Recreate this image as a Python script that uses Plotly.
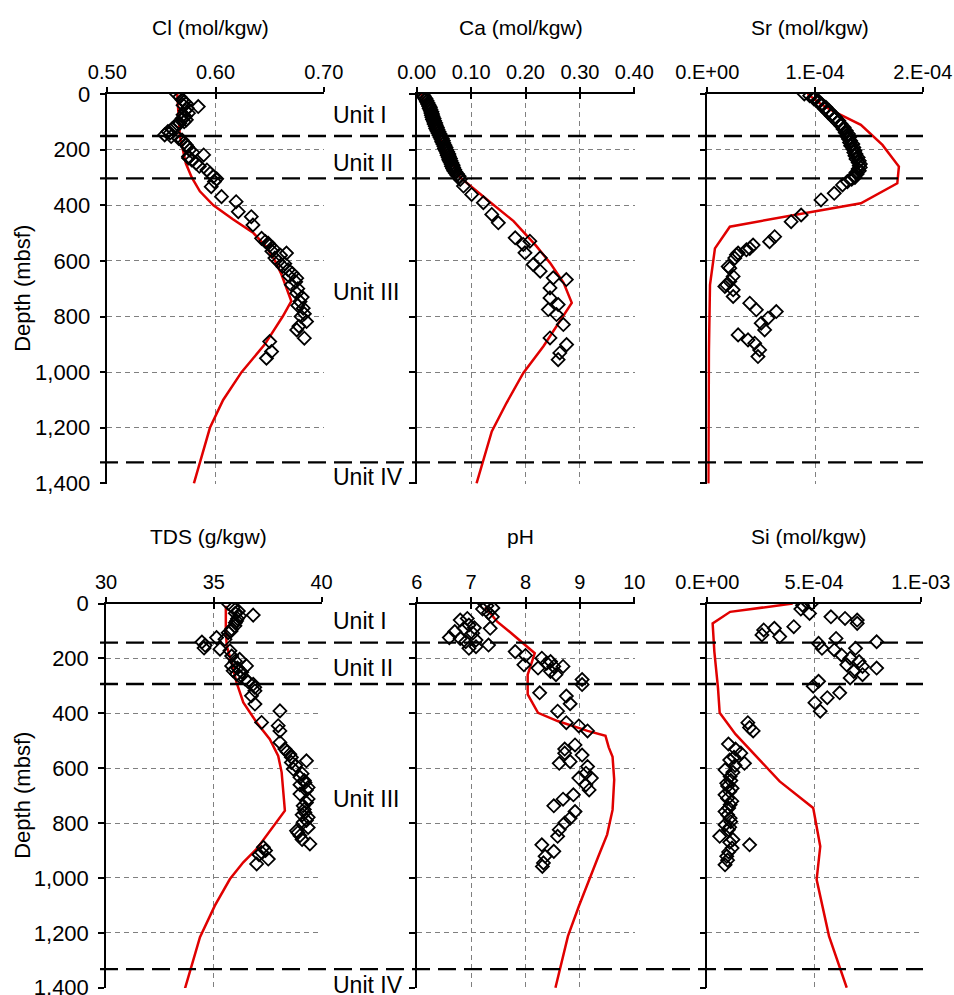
import plotly.graph_objects as go

# ---------------- DATA ----------------
depth_ticks = [0, 200, 400, 600, 800, 1000, 1200, 1400]
depth_ticktext = ["0", "200", "400", "600", "800", "1,000", "1,200", "1,400"]

unit_names = ["Unit I", "Unit II", "Unit III", "Unit IV"]
boundaries_top = [151, 303, 1324]
boundaries_bottom = [142, 293, 1332]
unit_label_depth_top = [75, 248, 711, 1376]
unit_label_depth_bottom = [63, 235, 713, 1389]

# Cl (mol/kgw)
cl_depth = [0, 10, 21, 28, 34, 40, 45, 51, 60, 69, 75, 81, 88, 93, 100, 105, 110, 117, 125, 135, 140, 147, 153,
            160, 165, 175, 183, 190, 201, 210, 219, 225, 230, 237, 249, 260, 273, 285, 297, 305, 315, 333, 369,
            387, 423, 441, 471, 519, 530, 537, 545, 555, 565, 572, 580, 590, 602, 610, 620, 632, 645, 655, 662,
            675, 686, 700, 716, 730, 746, 760, 770, 790, 800, 818, 835, 848, 878, 890, 926, 950]
cl_val = [0.564, 0.567, 0.569, 0.571, 0.573, 0.570, 0.584, 0.574, 0.572, 0.575, 0.570, 0.572, 0.569, 0.573, 0.571,
          0.567, 0.565, 0.562, 0.560, 0.556, 0.558, 0.553, 0.559, 0.566, 0.569, 0.571, 0.573, 0.574, 0.576, 0.579,
          0.589, 0.575, 0.575, 0.578, 0.582, 0.585, 0.592, 0.595, 0.598, 0.601, 0.599, 0.596, 0.6055, 0.619, 0.621,
          0.633, 0.6345, 0.6425, 0.646, 0.6486, 0.650, 0.6532, 0.652, 0.6655, 0.660, 0.6548, 0.658, 0.664, 0.662,
          0.667, 0.671, 0.668, 0.675, 0.674, 0.670, 0.676, 0.675, 0.680, 0.678, 0.676, 0.681, 0.682, 0.679, 0.684,
          0.677, 0.675, 0.682, 0.650, 0.6517, 0.647]
cl_model_depth = [0, 150, 250, 300, 350, 400, 450, 500, 550, 600, 650, 745, 800, 900, 1000, 1100, 1200, 1400]
cl_model_val = [0.5646, 0.567, 0.5726, 0.578, 0.5855, 0.598, 0.616, 0.635, 0.647, 0.655, 0.661, 0.670, 0.662,
                0.6455, 0.624, 0.607, 0.5948, 0.580]

# Ca (mol/kgw)
ca_depth = [0, 4, 8, 12, 16, 20, 24, 28, 32, 36, 40, 44, 48, 52, 56, 60, 64, 68, 72, 76, 80, 84, 88, 92, 96, 100,
            104, 108, 112, 116, 120, 124, 128, 132, 136, 140, 144, 148, 152, 156, 160, 164, 168, 172, 176, 180, 184,
            188, 192, 196, 200, 204, 208, 212, 216, 220, 224, 228, 232, 236, 240, 244, 248, 252, 256, 260, 264, 268,
            272, 276, 280, 284, 288, 292, 296,
            307, 331, 361, 391, 433, 463, 517, 529, 541, 571, 589, 613, 637, 661, 667, 697, 733, 757, 775, 793, 829,
            877, 901, 931, 955]
ca_val = [0.008, 0.012, 0.014, 0.013, 0.017, 0.016, 0.019, 0.018, 0.021, 0.020, 0.023, 0.022, 0.025, 0.023, 0.026,
          0.025, 0.028, 0.026, 0.029, 0.027, 0.030, 0.028, 0.032, 0.029, 0.033, 0.031, 0.035, 0.032, 0.036, 0.034,
          0.038, 0.035, 0.039, 0.037, 0.041, 0.039, 0.043, 0.041, 0.045, 0.043, 0.047, 0.045, 0.049, 0.046, 0.050,
          0.048, 0.052, 0.050, 0.054, 0.051, 0.055, 0.053, 0.057, 0.055, 0.059, 0.056, 0.060, 0.058, 0.062, 0.059,
          0.063, 0.061, 0.065, 0.063, 0.067, 0.064, 0.068, 0.066, 0.070, 0.068, 0.072, 0.071, 0.075, 0.074, 0.078,
          0.080, 0.086, 0.101, 0.1225, 0.138, 0.150, 0.181, 0.208, 0.196, 0.199, 0.227, 0.214, 0.227, 0.251, 0.275,
          0.245, 0.245, 0.260, 0.242, 0.257, 0.2695, 0.245, 0.2755, 0.263, 0.260]
ca_model_depth = [0, 100, 200, 300, 325, 379, 457, 547, 607, 679, 751, 835, 907, 1003, 1111, 1213, 1400]
ca_model_val = [0.008, 0.030, 0.052, 0.080, 0.095, 0.129, 0.178, 0.220, 0.245, 0.270, 0.285, 0.257, 0.233, 0.196,
                0.165, 0.138, 0.110]

# Sr (mol/kgw)
sr_depth = [0, 6, 12, 18, 24, 30, 36, 42, 48, 54, 60, 66, 72, 78, 84, 90, 96, 102, 108, 114, 120, 126, 132, 138,
            144, 150, 156, 162, 168, 174, 180, 186, 192, 198, 204, 210, 216, 222, 228, 234, 240, 246, 252, 258, 264,
            270, 276, 282, 288, 294, 300, 306,
            315, 327, 357, 381, 435, 459, 513, 531, 543, 555, 560, 572, 578, 590, 620, 626, 656, 674, 686, 692, 704,
            728, 752, 776, 782, 806, 824, 848, 866, 884, 896, 920, 944]
sr_val = [0.90e-4, 0.95e-4, 0.99e-4, 0.99e-4, 1.03e-4, 1.03e-4, 1.06e-4, 1.06e-4, 1.10e-4, 1.09e-4, 1.13e-4,
          1.12e-4, 1.16e-4, 1.15e-4, 1.19e-4, 1.18e-4, 1.22e-4, 1.21e-4, 1.24e-4, 1.24e-4, 1.27e-4, 1.26e-4,
          1.29e-4, 1.28e-4, 1.31e-4, 1.29e-4, 1.32e-4, 1.31e-4, 1.33e-4, 1.32e-4, 1.35e-4, 1.33e-4, 1.36e-4,
          1.35e-4, 1.37e-4, 1.36e-4, 1.38e-4, 1.37e-4, 1.40e-4, 1.38e-4, 1.41e-4, 1.40e-4, 1.42e-4, 1.41e-4,
          1.42e-4, 1.40e-4, 1.41e-4, 1.38e-4, 1.39e-4, 1.36e-4, 1.37e-4, 1.34e-4,
          1.30e-4, 1.255e-4, 1.178e-4, 1.055e-4, 0.871e-4, 0.778e-4, 0.625e-4, 0.578e-4, 0.425e-4, 0.394e-4,
          0.363e-4, 0.286e-4, 0.271e-4, 0.255e-4, 0.194e-4, 0.209e-4, 0.240e-4, 0.209e-4, 0.178e-4, 0.163e-4,
          0.240e-4, 0.240e-4, 0.394e-4, 0.455e-4, 0.640e-4, 0.563e-4, 0.500e-4, 0.532e-4, 0.286e-4, 0.378e-4,
          0.440e-4, 0.486e-4, 0.470e-4]
sr_model_depth = [0, 35, 61, 111, 183, 261, 321, 393, 423, 477, 555, 686, 926, 1400]
sr_model_val = [0.93e-4, 1.05e-4, 1.163e-4, 1.425e-4, 1.625e-4, 1.778e-4, 1.763e-4, 1.425e-4, 0.978e-4,
                0.209e-4, 0.071e-4, 0.025e-4, 0.015e-4, 0.010e-4]

# TDS (g/kgw)
tds_depth = [0, 15, 27, 35, 42, 45, 55, 63, 70, 81, 93, 100, 106, 124, 130, 140, 152, 162, 166, 172, 191, 203, 210,
             227, 227, 235, 245, 250, 257, 265, 275, 285, 294, 305, 318, 336, 366, 391, 433, 445, 464, 506, 530, 540,
             549, 560, 573, 579, 590, 603, 620, 633, 645, 652, 660, 670, 680, 694, 712, 725, 737, 750, 761, 770, 779,
             790, 797, 816, 828, 835, 846, 860, 876, 888, 900, 907, 915, 931, 949]
tds_val = [35.67, 35.90, 36.14, 36.00, 36.83, 36.20, 36.10, 36.06, 36.00, 35.98, 35.83, 35.80, 35.67, 35.13, 35.52,
           34.45, 34.60, 34.55, 35.29, 35.75, 35.83, 36.20, 36.00, 36.52, 35.83, 36.10, 35.90, 36.30, 36.06, 36.20,
           36.45, 36.60, 36.83, 36.90, 36.91, 36.75, 36.91, 38.07, 37.22, 37.99, 38.07, 38.07, 38.30, 38.40, 38.53,
           38.60, 39.30, 38.60, 38.80, 38.69, 39.10, 39.00, 39.20, 39.23, 39.00, 39.38, 39.30, 39.00, 39.38, 39.30,
           39.15, 39.20, 39.23, 39.10, 39.38, 39.30, 39.15, 39.38, 38.84, 38.90, 39.00, 39.10, 39.46, 37.30, 37.40,
           37.22, 37.10, 37.53, 36.99]
tds_model_depth = [8, 93, 154, 215, 288, 360, 433, 494, 555, 615, 755, 822, 894, 943, 1004, 1101, 1216, 1404]
tds_model_val = [35.56, 35.56, 35.60, 35.83, 36.06, 36.37, 36.99, 37.60, 37.99, 38.15, 38.30, 37.68, 36.99, 36.37,
                 35.75, 35.05, 34.36, 33.66]

# pH
ph_depth = [0, 8, 16, 20, 33, 48, 54, 60, 78, 88, 90, 90, 102, 108, 124, 127, 133, 139, 151, 157, 163, 175, 189, 199,
            211, 217, 223, 229, 229, 235, 247, 259, 277, 295, 325, 337, 365, 392, 434, 446, 464, 515, 530, 545, 552,
            576, 582, 594, 618, 636, 636, 661, 679, 697, 713, 737, 758, 782, 800, 824, 848, 879, 903, 921, 945, 958]
ph_val = [7.24, 7.29, 7.40, 7.21, 7.32, 7.39, 6.93, 6.80, 6.96, 7.06, 6.87, 7.35, 6.70, 7.03, 6.60, 6.80, 7.09, 6.90,
          7.32, 7.09, 6.96, 7.81, 8.00, 8.30, 8.46, 8.39, 7.97, 8.52, 8.69, 8.23, 8.46, 8.56, 9.04, 9.04, 8.26, 8.75,
          8.82, 8.59, 8.75, 8.98, 9.14, 8.91, 8.72, 8.72, 9.04, 8.82, 8.62, 9.14, 9.11, 8.98, 9.21, 9.11, 9.17, 8.88,
          8.69, 8.52, 8.91, 8.82, 8.72, 8.62, 8.59, 8.30, 8.52, 8.36, 8.33, 8.31]
ph_model_depth = [12, 66, 108, 181, 223, 259, 331, 398, 428, 464, 482, 524, 558, 642, 752, 842, 921, 1006, 1103,
                  1212, 1400]
ph_model_val = [7.26, 7.48, 7.74, 8.17, 8.10, 8.04, 8.04, 8.23, 8.59, 9.14, 9.47, 9.53, 9.60, 9.63, 9.60, 9.50,
                9.34, 9.17, 8.98, 8.78, 8.55]

# Si (mol/kgw)
si_depth = [0, 6, 20, 36, 48, 54, 60, 72, 84, 90, 96, 114, 120, 127, 139, 145, 163, 163, 169, 187, 199, 211, 223,
            229, 235, 247, 259, 271, 283, 301, 325, 343, 361, 392, 434, 452, 464, 512, 530, 545, 560, 570, 582, 590,
            606, 615, 630, 645, 655, 665, 673, 685, 697, 710, 720, 733, 745, 758, 770, 782, 795, 806, 815, 824, 848,
            860, 870, 879, 891, 905, 921, 935, 952]
si_val = [4.88e-4, 4.46e-4, 4.38e-4, 4.79e-4, 5.79e-4, 6.45e-4, 7.02e-4, 7.02e-4, 4.05e-4, 3.14e-4, 2.64e-4,
          2.56e-4, 3.39e-4, 6.03e-4, 7.93e-4, 5.21e-4, 5.37e-4, 6.94e-4, 5.95e-4, 6.28e-4, 6.69e-4, 7.11e-4,
          6.53e-4, 7.27e-4, 7.93e-4, 6.86e-4, 7.27e-4, 6.69e-4, 5.21e-4, 4.96e-4, 6.20e-4, 5.62e-4, 5.04e-4,
          5.29e-4, 1.90e-4, 1.98e-4, 2.15e-4, 0.99e-4, 1.32e-4, 1.57e-4, 1.25e-4, 1.05e-4, 1.74e-4, 1.30e-4,
          0.83e-4, 1.20e-4, 1.07e-4, 1.10e-4, 0.91e-4, 0.95e-4, 1.16e-4, 1.05e-4, 0.83e-4, 0.95e-4, 1.15e-4,
          1.07e-4, 1.00e-4, 0.83e-4, 0.95e-4, 1.07e-4, 1.10e-4, 0.83e-4, 1.05e-4, 0.99e-4, 0.58e-4, 1.20e-4,
          1.05e-4, 1.98e-4, 1.16e-4, 1.00e-4, 0.91e-4, 0.95e-4, 0.83e-4]
si_model_depth = [0, 30, 72, 175, 307, 398, 476, 530, 648, 745, 885, 1006, 1212, 1400]
si_model_val = [4.0e-4, 1.07e-4, 0.25e-4, 0.33e-4, 0.50e-4, 0.58e-4, 1.32e-4, 1.98e-4, 3.39e-4, 4.96e-4, 5.29e-4,
                5.12e-4, 5.70e-4, 6.53e-4]

# ---------------- LAYOUT ----------------
W, H = 954, 995
FONT = "Liberation Sans, Arial, sans-serif"


def fx(p):
    return p / W


def fy(p):
    return 1 - p / H


row_px = [(94, 483.7), (603.6, 988)]
col_px = [[(107.3, 324), (416.7, 634.5), (707.3, 923)],
          [(106, 321.7), (416.7, 634.5), (707.3, 921)]]

panels = [
    dict(title="Cl (mol/kgw)", rng=[0.5, 0.7], tv=[0.5, 0.6, 0.7], tt=["0.50", "0.60", "0.70"],
         d=cl_depth, v=cl_val, md=cl_model_depth, mv=cl_model_val),
    dict(title="Ca (mol/kgw)", rng=[0, 0.4], tv=[0, 0.1, 0.2, 0.3, 0.4],
         tt=["0.00", "0.10", "0.20", "0.30", "0.40"],
         d=ca_depth, v=ca_val, md=ca_model_depth, mv=ca_model_val),
    dict(title="Sr (mol/kgw)", rng=[0, 2e-4], tv=[0, 1e-4, 2e-4], tt=["0.E+00", "1.E-04", "2.E-04"],
         d=sr_depth, v=sr_val, md=sr_model_depth, mv=sr_model_val),
    dict(title="TDS (g/kgw)", rng=[30, 40], tv=[30, 35, 40], tt=["30", "35", "40"],
         d=tds_depth, v=tds_val, md=tds_model_depth, mv=tds_model_val),
    dict(title="pH", rng=[6, 10], tv=[6, 7, 8, 9, 10], tt=["6", "7", "8", "9", "10"],
         d=ph_depth, v=ph_val, md=ph_model_depth, mv=ph_model_val),
    dict(title="Si (mol/kgw)", rng=[0, 1e-3], tv=[0, 5e-4, 1e-3], tt=["0.E+00", "5.E-04", "1.E-03"],
         d=si_depth, v=si_val, md=si_model_depth, mv=si_model_val),
]

fig = go.Figure()
layout = dict(width=W, height=H, margin=dict(l=0, r=0, t=0, b=0, autoexpand=False), paper_bgcolor="white",
              plot_bgcolor="white", showlegend=False, font=dict(family=FONT, color="black"))
annotations = []
shapes = []

GRID = dict(showgrid=True, gridcolor="#808080", gridwidth=1.2, griddash="5px,4px", zeroline=False)

for i, p in enumerate(panels):
    r, c = divmod(i, 3)
    n = i + 1
    xs = "" if n == 1 else str(n)
    x0, x1 = col_px[r][c]
    ytop, ybot = row_px[r]
    lo, hi = p["rng"]
    xr = [lo, hi + (hi - lo) * 0.0008]
    layout["xaxis" + xs] = dict(domain=[fx(x0), fx(x1)], range=xr, side="top", anchor="y" + xs,
                                tickmode="array", tickvals=p["tv"], ticktext=p["tt"], automargin=False,
                                ticks="outside", ticklen=5, tickwidth=1.5, tickcolor="black",
                                showline=True, linecolor="black", linewidth=1.5, ticklabeloverflow="allow",
                                tickfont=dict(size=20, family=FONT, color="black"), **GRID)
    layout["yaxis" + xs] = dict(domain=[fy(ybot), fy(ytop)], range=[1401, 0], anchor="x" + xs,
                                tickmode="array", tickvals=depth_ticks, ticktext=depth_ticktext,
                                showticklabels=(c == 0), ticks="outside", ticklen=6, tickwidth=1.5,
                                automargin=False, ticklabeloverflow="allow", ticklabelstandoff=5,
                                tickcolor="black", showline=True, linecolor="black", linewidth=1.5,
                                tickfont=dict(size=22, family=FONT, color="black"), **GRID)
    # overlay axis giving inward half of the crossing x ticks
    ox = str(n + 6)
    layout["xaxis" + ox] = dict(overlaying="x" + xs, anchor="y" + xs, side="top", range=xr,
                                tickmode="array", tickvals=p["tv"], showticklabels=False, automargin=False,
                                ticks="inside", ticklen=5, tickwidth=1.5, tickcolor="black",
                                showgrid=False, showline=False, zeroline=False)
    fig.add_trace(go.Scatter(x=[None], y=[None], xaxis="x" + ox, yaxis="y" + xs, hoverinfo="skip"))

    fig.add_trace(go.Scatter(x=p["mv"], y=p["md"], mode="lines", xaxis="x" + xs, yaxis="y" + xs,
                             line=dict(color="#e00000", width=2.5)))
    fig.add_trace(go.Scatter(x=p["v"], y=p["d"], mode="markers", xaxis="x" + xs, yaxis="y" + xs,
                             marker=dict(symbol="diamond-open", size=10, color="black",
                                         line=dict(width=1.8, color="black"))))
    title_y = 28 if r == 0 else 536.7
    annotations.append(dict(text=p["title"], x=fx((x0 + x1) / 2 - 5), y=fy(title_y), xref="paper",
                            yref="paper", showarrow=False, xanchor="center", yanchor="middle",
                            font=dict(size=21, family=FONT, color="black")))

# Depth axis titles
for r in range(2):
    ytop, ybot = row_px[r]
    annotations.append(dict(text="Depth (mbsf)", textangle=-90, x=fx(23), y=fy((ytop + ybot) / 2),
                            xref="paper", yref="paper", showarrow=False, xanchor="center",
                            yanchor="middle", font=dict(size=22, family=FONT, color="black")))

# Unit boundaries and labels
for r, (bnds, lbls, yref) in enumerate([(boundaries_top, unit_label_depth_top, "y"),
                                         (boundaries_bottom, unit_label_depth_bottom, "y4")]):
    for b in bnds:
        shapes.append(dict(type="line", xref="paper", yref=yref, x0=fx(100), x1=fx(923), y0=b, y1=b,
                           line=dict(color="black", width=2.3, dash="18px,8px"), layer="above"))
    for name, d in zip(unit_names, lbls):
        annotations.append(dict(text=name, x=fx(331), y=d, xref="paper", yref=yref, showarrow=False,
                                xanchor="left", yanchor="middle",
                                font=dict(size=23, family=FONT, color="black")))

layout["annotations"] = annotations
layout["shapes"] = shapes
fig.update_layout(**layout)
fig.write_html("out.html")
